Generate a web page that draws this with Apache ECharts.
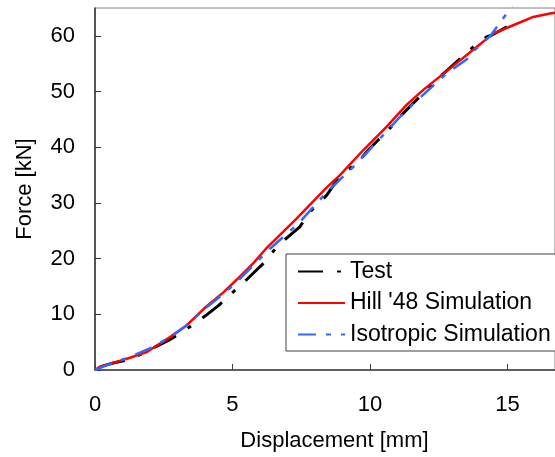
<!DOCTYPE html>
<html>
<head>
<meta charset="utf-8">
<script src="https://cdn.jsdelivr.net/npm/echarts@6/dist/echarts.min.js"></script>
<style>html,body{margin:0;padding:0;background:#fff;}#c{width:555px;height:457px;}</style>
</head>
<body>
<div id="c"></div>
<script>
// Displacement [mm], Force [kN]
var testX = [0.2, 0.7, 1.27, 2.1, 2.67, 3.1, 3.52, 4.06, 4.5, 4.91, 5.45, 5.8, 6.18, 6.61, 7.0, 7.45, 7.76, 8.1, 8.43, 8.85, 9.2, 9.58, 9.94, 10.3, 10.67, 11.09, 11.45, 11.82, 12.42, 13.03, 13.4, 13.76, 14.24, 14.42, 15.09];
var testY = [0.6, 1.3, 1.9, 3.9, 5.3, 6.6, 8.0, 9.9, 11.6, 13.5, 15.9, 17.6, 19.4, 22.1, 23.8, 25.7, 28.1, 29.8, 31.4, 34.4, 35.9, 37.4, 39.5, 41.3, 43.1, 45.5, 47.3, 49.1, 52.1, 54.8, 56.4, 58.0, 59.8, 60.1, 61.9];
var hillX = [0, 0.18, 0.55, 1.27, 1.88, 2.12, 2.73, 3.33, 4.05, 4.66, 5.15, 5.76, 6.24, 7.33, 8.43, 8.91, 9.76, 10.61, 11.33, 11.94, 13.15, 13.88, 14.48, 15.21, 15.94, 16.55, 16.9];
var hillY = [0, 0.6, 1.1, 2.2, 3.2, 4.0, 5.9, 8.0, 11.4, 13.9, 16.2, 19.2, 21.9, 27.2, 32.8, 35.0, 39.5, 43.7, 47.6, 50.3, 55.1, 58.0, 60.4, 61.9, 63.4, 64.0, 64.3];
var isoX = [0, 0.5, 1.3, 2.0, 2.7, 3.3, 4.0, 4.7, 5.2, 5.8, 6.3, 7.4, 8.4, 9.4, 10.6, 11.1, 11.6, 12.8, 13.5, 13.8, 14.4, 15.1, 15.4];
var isoY = [0, 1.0, 2.4, 3.9, 5.8, 7.9, 11.0, 13.8, 16.0, 19.0, 21.5, 26.3, 31.8, 36.5, 42.8, 45.5, 47.9, 53.3, 55.7, 57.4, 60.1, 64.9, 67.0];
var xTicks = [0, 5, 10, 15];
var yTicks = [0, 10, 20, 30, 40, 50, 60];
var seriesNames = ['Test', "Hill '48 Simulation", 'Isotropic Simulation'];

function pairs(xs, ys) { return xs.map(function (x, i) { return [x, ys[i]]; }); }

var font = 'Liberation Sans, Arial, sans-serif';
var chart = echarts.init(document.getElementById('c'), null, {renderer: 'canvas'});
chart.setOption({
  animation: false,
  backgroundColor: '#fff',
  grid: {left: 95, right: 0, top: 8, bottom: 87, show: true, borderColor: '#808080', borderWidth: 1, backgroundColor: 'transparent'},
  xAxis: {
    type: 'value', min: 0, max: 16.73, interval: 5,
    name: 'Displacement [mm]', nameLocation: 'middle', nameGap: 60,
    nameTextStyle: {fontFamily: font, fontSize: 22, color: '#000', padding: [0, 0, 0, 19]},
    axisLine: {show: true, lineStyle: {color: '#404040', width: 1.5}},
    axisTick: {show: true, inside: true, length: 6, lineStyle: {color: '#404040'}, customValues: xTicks},
    axisLabel: {fontFamily: font, fontSize: 22, color: '#000', margin: 24, customValues: xTicks},
    splitLine: {show: false}
  },
  yAxis: {
    type: 'value', min: 0, max: 65, interval: 10,
    name: 'Force [kN]', nameLocation: 'middle', nameGap: 59, nameRotate: 90,
    nameTextStyle: {fontFamily: font, fontSize: 22, color: '#000'},
    axisLine: {show: true, lineStyle: {color: '#333', width: 1.5}},
    axisTick: {show: true, inside: true, length: 6, lineStyle: {color: '#333'}, customValues: yTicks},
    axisLabel: {fontFamily: font, fontSize: 22, color: '#000', margin: 20, customValues: yTicks},
    splitLine: {show: false}
  },
  legend: {
    orient: 'vertical', left: 286, top: 254,
    padding: [6, 20, 5, 11], itemGap: 8.5, itemWidth: 47, itemHeight: 14,
    borderColor: '#404040', borderWidth: 1, borderRadius: 0, backgroundColor: '#fff',
    itemStyle: {opacity: 0},
    textStyle: {fontFamily: font, fontSize: 23, color: '#000'},
    data: seriesNames
  },
  series: [
    {name: seriesNames[0], type: 'line', data: pairs(testX, testY), showSymbol: false, symbol: 'none',
     lineStyle: {color: '#000', width: 3, type: [25, 14, 4, 14]}, itemStyle: {color: '#000'}},
    {name: seriesNames[1], type: 'line', data: pairs(hillX, hillY), showSymbol: false, symbol: 'none',
     lineStyle: {color: '#ff0000', width: 2.5}, itemStyle: {color: '#ff0000'}},
    {name: seriesNames[2], type: 'line', data: pairs(isoX, isoY), showSymbol: false, symbol: 'none',
     lineStyle: {color: '#3366ff', width: 2.5, type: [18, 10, 5, 10]}, itemStyle: {color: '#3366ff'}}
  ]
});
</script>
</body>
</html>
